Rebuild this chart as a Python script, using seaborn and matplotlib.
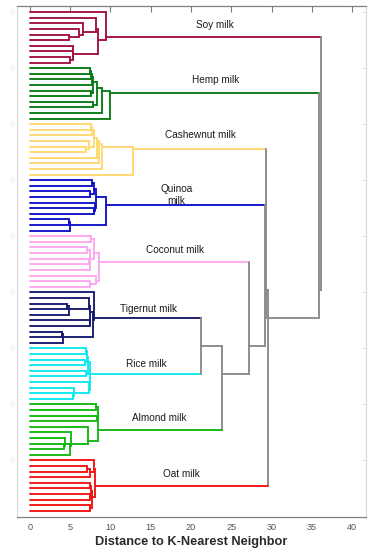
import matplotlib
matplotlib.use("Agg")
import matplotlib.pyplot as plt
import pandas as pd
import seaborn as sns

# milk clusters, top to bottom
names = ["Soy milk", "Hemp milk", "Cashewnut milk", "Quinoa\nmilk", "Coconut milk",
         "Tigernut milk", "Rice milk", "Almond milk", "Oat milk"]
colors = ["#a3123f", "#0a7a14", "#ffd86e", "#1010c8", "#ffa6f0",
          "#161a6e", "#10e8f0", "#14b814", "#f21414"]

# sub-trees inside each cluster: [left, right, merge distance], leaves = local index
soy_tree = [0, [[1, [2, [3, [4, 5, 4.9], 6.1], 6.6], 8.2], [6, [7, [8, 9, 5.0], 5.3], 5.4], 8.5], 9.5]
hemp_tree = [[[[[[[0, 1, 7.5], 2, 7.6], 3, 7.7], [4, 5, 7.6], 7.8], [6, 7, 7.8], 8.3], 8, 8.9], 9, 9.9]
cashew_tree = [[[[[[[0, 1, 7.6], 2, 7.7], [3, [4, 5, 6.9], 7.3], 7.9], 6, 8.3], 7, 8.6], 8, 9.0], 9, 12.8]
quinoa_tree = [[[[0, 1, 7.7], [2, 3, 7.4], 8.0], [4, [5, 6, 7.9], 8.1], 8.2], [[7, 8, 4.8], 9, 5.0], 9.5]
coconut_tree = [[[0, 1, 7.6], [[[2, 3, 7.1], [4, 5, 7.3], 7.4], 6, 7.5], 7.9], [7, [8, 9, 7.4], 8.2], 8.6]
tigernut_tree = [0, [[[1, [[2, 3, 4.6], 4, 4.8], 7.3], [5, 6, 7.4], 7.5], [[7, 8, 4.0], 9, 4.1], 7.8], 7.9]
rice_tree = [[[[0, 1, 7.0], [2, 3, 6.8], 7.1], [4, 5, 7.0], 7.2], [6, [7, [8, 9, 5.3], 5.5], 7.3], 7.45]
almond_tree = [[[0, 1, 8.2], [2, 3, 8.3], 8.4], [4, [5, [[6, [7, 8, 4.2], 4.4], 9, 5.0], 5.1], 7.2], 8.5]
oat_tree = [[0, [[1, 2, 7.1], 3, 7.5], 7.9], [[[4, 5, 7.4], [6, 7, 7.5], 7.6], [8, 9, 7.4], 7.7], 8.1]
trees = [soy_tree, hemp_tree, cashew_tree, quinoa_tree, coconut_tree,
         tigernut_tree, rice_tree, almond_tree, oat_tree]

# links between clusters (grey)
top_tree = ["Soy milk", ["Hemp milk", [["Cashewnut milk", ["Quinoa\nmilk", ["Coconut milk",
            [["Tigernut milk", "Rice milk", 21.2], "Almond milk", 23.85], 27.2], 29.2], 29.3],
            "Oat milk", 29.5], 35.9], 36.1]
link_color = "#8a8a8a"

# label placement (x in distance units, offset above the branch in pixels)
label_x = [23.0, 23.0, 21.2, 18.2, 18.0, 14.7, 14.5, 16.0, 18.8]
label_dy = [12.5, 13, 14, 10, 11.5, 9, 9.5, 12, 11.5]


def count_leaves(node):
    if isinstance(node, int):
        return 1
    return count_leaves(node[0]) + count_leaves(node[1])


offsets = []
pos = 0
for t in trees:
    offsets.append(pos)
    pos += count_leaves(t)
n_leaves = pos

segs = []
cluster_y = {}


def add_seg(x0, x1, y0, y1, c):
    k = len(segs)
    segs.append({"seg": k, "x": x0, "y": y0, "color": c})
    segs.append({"seg": k, "x": x1, "y": y1, "color": c})


def build(node, offset, color):
    if isinstance(node, int):
        return offset + node, 1, 0.0, color
    if isinstance(node, str):
        i = names.index(node)
        res = build(trees[i], offsets[i], colors[i])
        cluster_y[node] = res[0]
        return res
    left, right, h = node
    yl, nl, hl, cl = build(left, offset, color)
    yr, nr, hr, cr = build(right, offset, color)
    add_seg(hl, h, yl, yl, cl)
    add_seg(hr, h, yr, yr, cr)
    add_seg(h, h, yl, yr, color)
    return (yl * nl + yr * nr) / (nl + nr), nl + nr, h, color


build(top_tree, 0, link_color)
df = pd.DataFrame(segs)

sns.set_style("white")
plt.rcParams["font.family"] = ["Liberation Sans", "DejaVu Sans"]

fig = plt.figure(figsize=(3.72, 5.5), dpi=100)
ax = fig.add_axes([17 / 372, 1 - 517 / 550, 349 / 372, 511 / 550])

pal = {c: c for c in df["color"].unique()}
sns.lineplot(data=df, x="x", y="y", units="seg", hue="color", palette=pal,
             estimator=None, sort=False, legend=False, lw=1.35, ax=ax)

for i, name in enumerate(names):
    ax.annotate(name, (label_x[i], cluster_y[name]), xytext=(0, label_dy[i]),
                textcoords="offset pixels", ha="center", va="center",
                fontsize=7.2, color="#1a1a1a", linespacing=1.25)

ax.set_xlim(-1.6, 41.7)
ax.set_ylim(n_leaves - 1 + 1.1, -1.1)
ax.set_xticks(range(0, 41, 5))
ax.set_yticks(range(0, n_leaves, 10))
ax.set_yticklabels(["0"] * len(range(0, n_leaves, 10)), color="#e4e4e4", fontsize=5)
ax.tick_params(axis="x", direction="in", length=4, color="#777777", labelsize=6.6,
               labelcolor="#555555", top=True, pad=4)
ax.tick_params(axis="y", direction="in", length=3, color="#e0e0e0", right=True, pad=2)
ax.set_xlabel("Distance to K-Nearest Neighbor", fontsize=9.2, fontweight="bold",
              color="#2a2a2a", labelpad=3)
ax.set_ylabel("")
for side in ["top", "bottom"]:
    ax.spines[side].set_color("#808080")
    ax.spines[side].set_linewidth(0.9)
for side in ["left", "right"]:
    ax.spines[side].set_color("#d8d8d8")
    ax.spines[side].set_linewidth(0.8)

fig.savefig("out.png", dpi=100)
